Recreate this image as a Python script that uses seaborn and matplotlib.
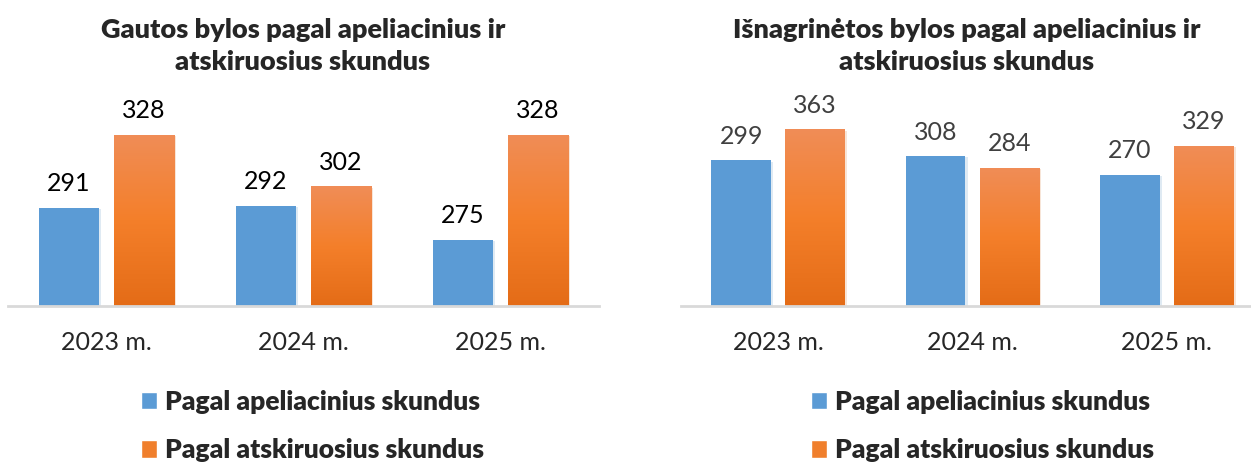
import numpy as np
import pandas as pd
import seaborn as sns
import matplotlib.pyplot as plt
import matplotlib.patheffects as pe
from matplotlib.colors import LinearSegmentedColormap
from matplotlib.patches import Patch

# data
years = ["2023 m.", "2024 m.", "2025 m."]
series = ["Pagal apeliacinius skundus", "Pagal atskiruosius skundus"]
received_appeal = [291, 292, 275]
received_separate = [328, 302, 328]
examined_appeal = [299, 308, 270]
examined_separate = [363, 284, 329]

titles = ["Gautos bylos pagal apeliacinius ir\natskiruosius skundus",
          "Išnagrinėtos bylos pagal apeliacinius ir\natskiruosius skundus"]

blue = "#5B9BD5"
orange = "#F07F2C"
orange_cmap = LinearSegmentedColormap.from_list(
    "og", ["#E46C17", "#F47F2A", "#F08D57"])

sns.set_style("white")
plt.rcParams["font.family"] = ["Lato", "DejaVu Sans"]

W, H = 1251, 463
fig = plt.figure(figsize=(W / 100, H / 100), dpi=100)


def make_df(a, b):
    return pd.DataFrame({
        "year": years * 2,
        "series": [series[0]] * 3 + [series[1]] * 3,
        "value": list(a) + list(b),
    })


panels = [
    (make_df(received_appeal, received_separate), 8, 591, (241.3, 345.7), "#000000"),
    (make_df(examined_appeal, examined_separate), 681, 583, (0, 423), "#404040"),
]

for i, (df, x0, wpx, ylim, lblcol) in enumerate(panels):
    base = 306
    top = 100
    ax = fig.add_axes([x0 / W, 1 - base / H, wpx / W, (base - top) / H])
    sns.barplot(data=df, x="year", y="value", hue="series",
                palette=[blue, orange], width=0.76, gap=0.19,
                ax=ax, legend=False, saturation=1)
    ax.set_xlim(-0.5, 2.5)
    ax.set_ylim(*ylim)
    ax.set_xlabel("")
    ax.set_ylabel("")
    ax.set_yticks([])
    for s in ["left", "right", "top"]:
        ax.spines[s].set_visible(False)
    ax.spines["bottom"].set_color("#D9D9D9")
    ax.spines["bottom"].set_linewidth(2)
    ax.tick_params(axis="x", length=0, pad=18, labelsize=18)

    shadow = [pe.SimplePatchShadow(offset=(1.5, -1), alpha=0.18, rho=0.9), pe.Normal()]
    for cont in ax.containers:
        for p in cont:
            p.set_edgecolor("none")
            p.set_path_effects(shadow)
    # gradient on orange bars
    grad = np.linspace(0, 1, 256).reshape(-1, 1)
    for p in ax.containers[1]:
        x, y = p.get_x(), p.get_y()
        w, h = p.get_width(), p.get_height()
        im = ax.imshow(grad, cmap=orange_cmap, origin="lower", aspect="auto",
                       extent=[x, x + w, ylim[0], y + h], zorder=p.get_zorder() + 0.1)
        im.set_clip_path(p)
    ax.set_xlim(-0.5, 2.5)
    ax.set_ylim(*ylim)

    for cont in ax.containers:
        ax.bar_label(cont, padding=9, fontsize=18, color=lblcol)

    cx = 303 / W if i == 0 else 967 / W
    fig.text(cx, 1 - 46 / H, titles[i], ha="center", va="center",
             fontsize=19.5, fontweight="heavy", linespacing=1.38)

    handles = [Patch(facecolor=blue), Patch(facecolor=orange)]
    lx = 141 / W if i == 0 else 811 / W
    fig.legend(handles, series, loc="upper left", bbox_to_anchor=(lx, 1 - 390 / H),
               frameon=False, prop={"weight": "heavy", "size": 19},
               handlelength=0.62, handleheight=0.62, handletextpad=0.3,
               labelspacing=0.92, borderaxespad=0, borderpad=0)

fig.savefig("out.png", dpi=100)
